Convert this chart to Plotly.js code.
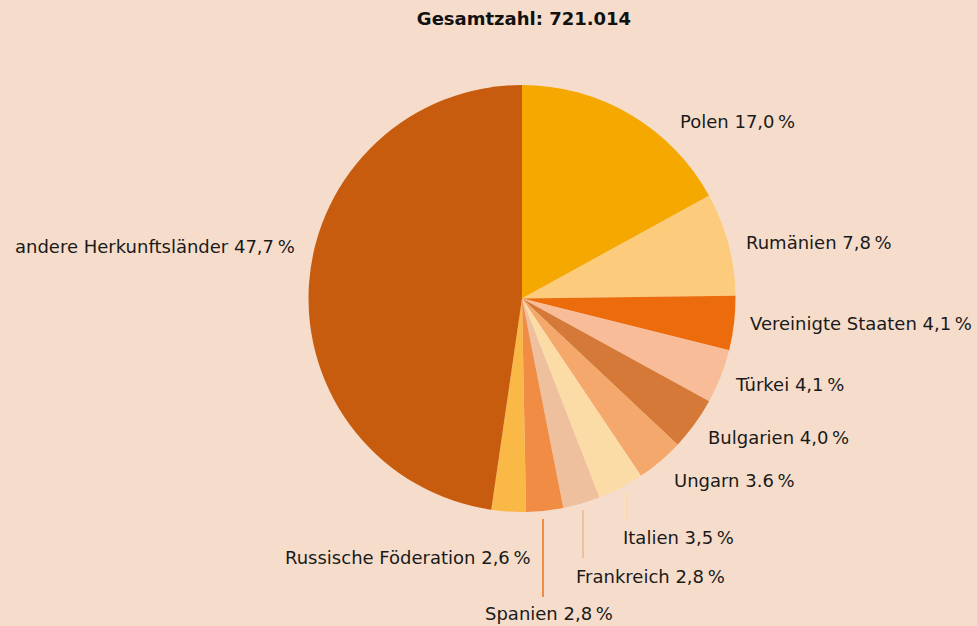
<!DOCTYPE html>
<html>
<head>
<meta charset="utf-8">
<script src="https://cdn.plot.ly/plotly-3.0.1.min.js"></script>
<style>html,body{margin:0;padding:0;background:#F6DDCB;}#chart{width:977px;height:626px;}</style>
</head>
<body>
<div id="chart"></div>
<script>
const W = 977, H = 626;
const countries = ["Polen", "Rumänien", "Vereinigte Staaten", "Türkei", "Bulgarien", "Ungarn", "Italien", "Frankreich", "Spanien", "Russische Föderation", "andere Herkunftsländer"];
const shares = [17.0, 7.8, 4.1, 4.1, 4.0, 3.6, 3.5, 2.8, 2.8, 2.6, 47.7];
const shareLabels = ["17,0", "7,8", "4,1", "4,1", "4,0", "3.6", "3,5", "2,8", "2,8", "2,6", "47,7"];
const colors = ["#F5A800", "#FCCB7B", "#EC6B0C", "#F9BC98", "#D47937", "#F5A86C", "#FCDCA6", "#EFC09D", "#F08C43", "#FAB846", "#C85C0E"];
const titleText = "Gesamtzahl: 721.014";

// label placement (pixels): [x, y, anchor]
const labelPos = [
  [678, 122, "left"], [744, 242, "left"], [748, 323, "left"], [733, 384, "left"],
  [706, 437, "left"], [672, 480, "left"], [621, 537, "left"], [574, 576, "left"],
  [483, 613, "left"], [533, 557, "right"], [297, 246, "right"]
];
// leader lines (pixels): [index, x, y0, y1]
const leaders = [[6, 627, 494, 520], [7, 583, 510, 558], [8, 543, 519, 597]];

const cx = 522, cy = 298.5, r = 213.5;
const px = x => x / W, py = y => 1 - y / H;

const annotations = countries.map((c, i) => ({
  text: c + " " + shareLabels[i] + "\u2009%",
  xref: "paper", yref: "paper",
  x: px(labelPos[i][0]), y: py(labelPos[i][1]),
  xanchor: labelPos[i][2], yanchor: "middle",
  showarrow: false,
  font: {family: "DejaVu Sans, sans-serif", size: 18, color: "#1a1a1a"}
}));

const shapes = leaders.map(l => ({
  type: "line", xref: "paper", yref: "paper",
  x0: px(l[1]), x1: px(l[1]), y0: py(l[2]), y1: py(l[3]),
  line: {color: colors[l[0]], width: 2}
}));

const trace = {
  type: "pie",
  labels: countries,
  values: shares,
  sort: false,
  direction: "clockwise",
  rotation: 0,
  marker: {colors: colors, line: {width: 0}},
  textinfo: "none",
  hoverinfo: "label+percent",
  showlegend: false,
  domain: {x: [px(cx - r), px(cx + r)], y: [py(cy + r), py(cy - r)]}
};

const layout = {
  width: W, height: H,
  margin: {l: 0, r: 0, t: 0, b: 0},
  paper_bgcolor: "#F6DDCB",
  plot_bgcolor: "#F6DDCB",
  title: {text: "<b>" + titleText + "</b>", x: 524 / W, xanchor: "center", y: py(19), yanchor: "middle",
    font: {family: "DejaVu Sans, sans-serif", size: 18, color: "#111"}},
  annotations: annotations,
  shapes: shapes,
  showlegend: false
};

Plotly.newPlot("chart", [trace], layout, {displayModeBar: false, staticPlot: true});
</script>
</body>
</html>
